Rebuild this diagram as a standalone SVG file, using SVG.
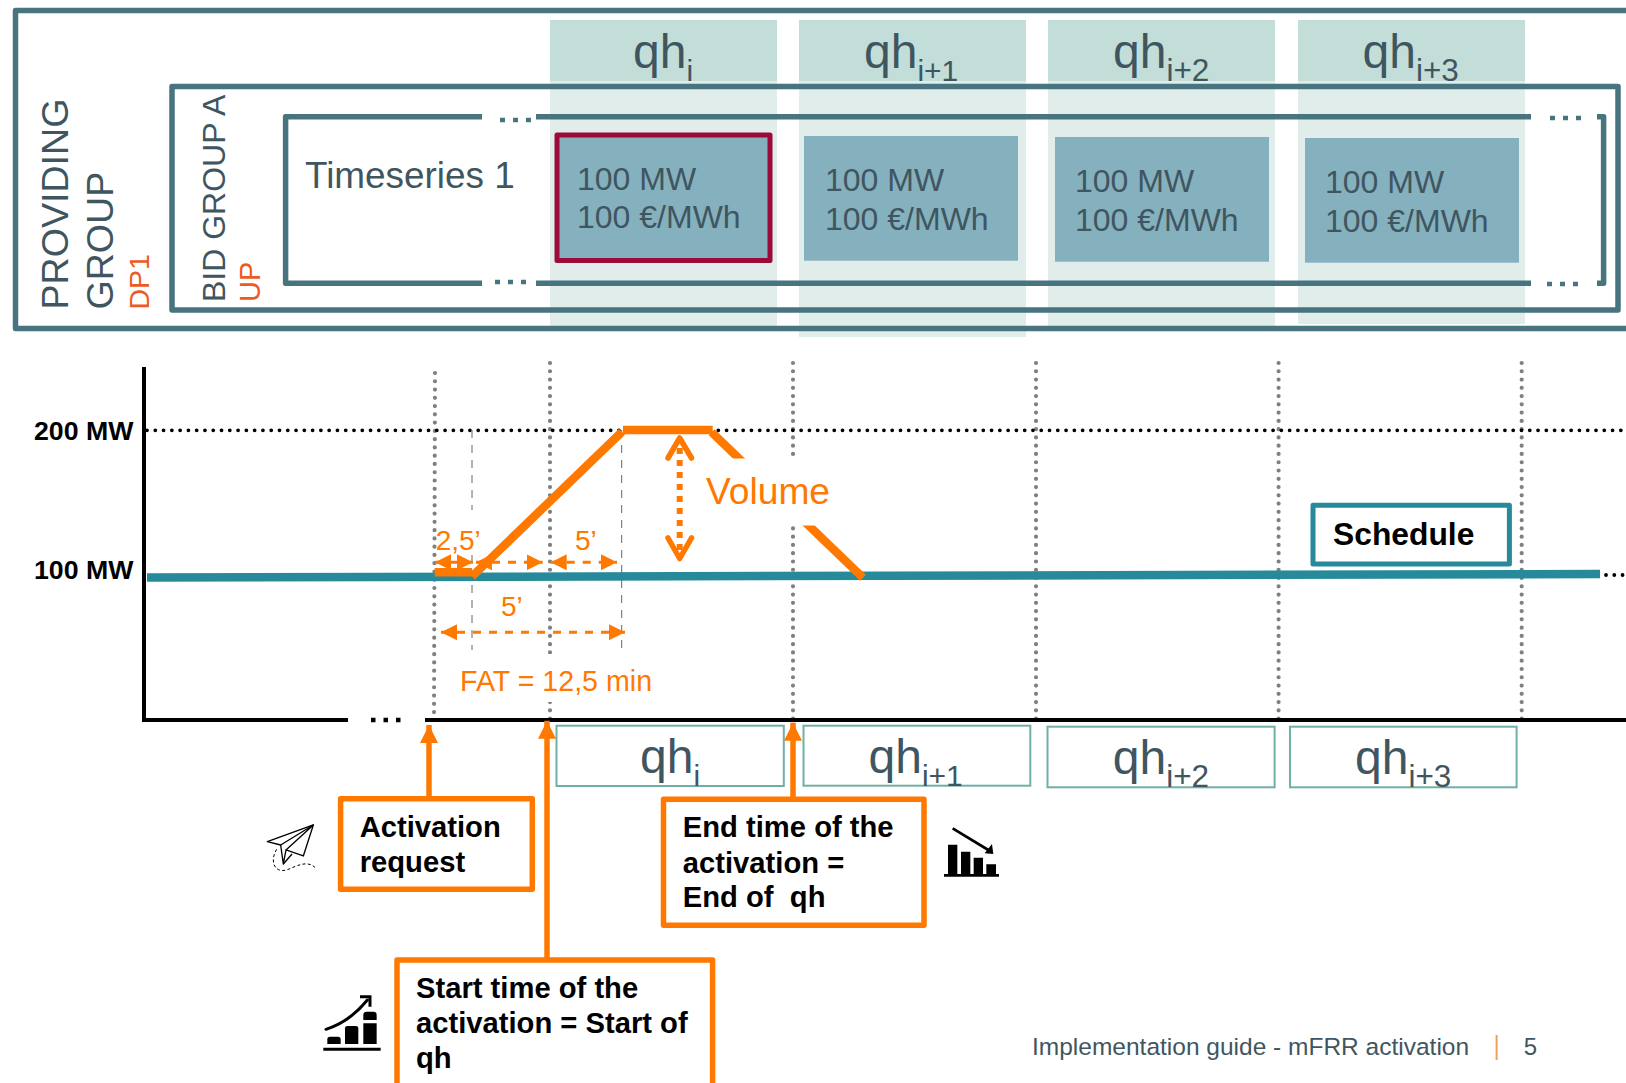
<svg xmlns="http://www.w3.org/2000/svg" width="1626" height="1083" viewBox="0 0 1626 1083">
<style>
text{font-family:"Liberation Sans",Arial,sans-serif;fill:#3f5660}
.frame{fill:none;stroke:#47747f;stroke-width:5.5;stroke-linejoin:round}
.hd{fill:#c3ded8}.bg{fill:#e1edea}
.cell{fill:#85b0be}
.qh{font-size:48px}.sub{font-size:30px}.sub2{font-size:31.5px}
.val{font-size:32px}
.k{fill:#000;font-weight:bold}
.c{font-size:29.2px}
.o{fill:#ff7800}
.call{fill:#fff;stroke:#ff7800;stroke-width:5.5;stroke-linejoin:round}
.qb{fill:none;stroke:#6fafa5;stroke-width:2}
.vd{fill:none;stroke:#808080;stroke-width:4.2;stroke-linecap:round;stroke-dasharray:0 8.27}
.hdot{fill:none;stroke:#000;stroke-width:3.8;stroke-linecap:round;stroke-dasharray:0 8.28}
.thin{fill:none;stroke:#666;stroke-width:1;stroke-dasharray:8 7}
.ol{fill:none;stroke:#ff7800;stroke-linecap:butt}
.dash{fill:none;stroke:#ff7800;stroke-width:3;stroke-dasharray:8 8}
.sq{fill:none;stroke:#47747f;stroke-width:4.5;stroke-dasharray:5 8}
.sqk{fill:none;stroke:#000;stroke-width:4.5;stroke-dasharray:4.5 8}
</style>
<defs>
<marker id="tri" viewBox="0 0 10 10" refX="10" refY="5" markerWidth="16" markerHeight="16" markerUnits="userSpaceOnUse" orient="auto-start-reverse"><path d="M0 0L10 5L0 10Z" fill="#ff7800"/></marker>
<marker id="up" viewBox="0 0 10 10" refX="10" refY="5" markerWidth="18" markerHeight="18" markerUnits="userSpaceOnUse" orient="auto"><path d="M0 0L10 5L0 10Z" fill="#ff7800"/></marker>
</defs>
<rect width="1626" height="1083" fill="#fff"/>

<g id="columns">
<rect class="bg" x="550" y="81" width="227" height="247"/><rect class="hd" x="550" y="20" width="227" height="61"/>
<rect class="bg" x="799" y="81" width="227" height="256"/><rect class="hd" x="799" y="20" width="227" height="61"/>
<rect class="bg" x="1048" y="81" width="227" height="245"/><rect class="hd" x="1048" y="20" width="227" height="61"/>
<rect class="bg" x="1298" y="81" width="227" height="243"/><rect class="hd" x="1298" y="20" width="227" height="61"/>
</g>
<g id="providing-group">
<path class="frame" d="M1626 10.5H15.5V328.5H1626"/>
<text transform="translate(67.5,309.5) rotate(-90)" font-size="37.6">PROVIDING</text>
<text transform="translate(113,309.5) rotate(-90)" font-size="37.6">GROUP</text>
<text transform="translate(149,309.5) rotate(-90)" font-size="28.5" style="fill:#ee5a24">DP1</text>
</g>
<g id="bid-group">
<rect class="frame" x="172" y="86.5" width="1446" height="223.5"/>
<text transform="translate(225,302) rotate(-90)" font-size="32">BID GROUP A</text>
<text transform="translate(260,302) rotate(-90)" font-size="29" style="fill:#ee5a24">UP</text>
</g>
<g id="timeseries">
<path class="frame" d="M482 116.7H285.6V283.3H482M536 116.7H1531M536 283.3H1531M1597 116.7H1603.6V283.3H1597"/>
<path class="sq" d="M500 120H531M495 282H526M1550 118H1581M1547 284H1578"/>
<text x="305" y="188" font-size="36.9">Timeseries 1</text>
</g>
<g id="qh-headers">
<text class="qh" x="633" y="68">qh<tspan class="sub" dy="12.5">i</tspan></text>
<text class="qh" x="864" y="68">qh<tspan class="sub" dy="12.5">i+1</tspan></text>
<text class="qh" x="1113" y="68">qh<tspan class="sub2" dy="12.5">i+2</tspan></text>
<text class="qh" x="1362.5" y="68">qh<tspan class="sub2" dy="12.5">i+3</tspan></text>
</g>
<g id="bid-1">
<rect class="cell" x="557" y="135" width="213" height="125.5" stroke="#9b0a39" stroke-width="5" stroke-linejoin="round"/>
<text class="val" x="577" y="190">100 MW</text><text class="val" x="577" y="228">100 €/MWh</text>
</g>
<g id="bid-2">
<rect class="cell" x="804" y="136" width="214" height="124.7"/>
<text class="val" x="825" y="191">100 MW</text><text class="val" x="825" y="229.7">100 €/MWh</text>
</g>
<g id="bid-3">
<rect class="cell" x="1055" y="137" width="214" height="124.7"/>
<text class="val" x="1075" y="192">100 MW</text><text class="val" x="1075" y="230.7">100 €/MWh</text>
</g>
<g id="bid-4">
<rect class="cell" x="1305" y="138" width="214" height="124.7"/>
<text class="val" x="1325" y="193">100 MW</text><text class="val" x="1325" y="231.7">100 €/MWh</text>
</g>

<g id="chart-grid">
<path class="vd" d="M435 373L434 720M550 363V720M793 363V720M1036 363V720M1278.6 363V720M1521.7 363V720"/>
<path class="hdot" d="M147 430.3H1626M1606 575H1626"/>
<path class="thin" d="M472 430V510M472 555V650M621.7 430V653"/>
</g>
<g id="axes">
<path fill="none" stroke="#000" stroke-width="4" d="M144 367V722M144 720H348M425 720H1626"/>
<path class="sqk" d="M371 720H403"/>
<text class="k" x="34" y="439.7" font-size="26.7">200 MW</text>
<text class="k" x="34" y="579.3" font-size="26.7">100 MW</text>
</g>
<g id="schedule-line">
<path fill="none" stroke="#268a9a" stroke-width="8.5" d="M147 577.5L1600 574"/>
</g>
<g id="activation-profile">
<path class="ol" stroke-width="8.5" d="M434.7 572.3H472M472 576.5L622 431.7M623 430H712.7M711.7 432.3L863 577.7"/>
</g>
<g id="dimensions">
<path class="dash" marker-start="url(#tri)" marker-end="url(#tri)" d="M435 562.3H473"/>
<path class="dash" marker-start="url(#tri)" marker-end="url(#tri)" d="M476 562.3H542.7"/>
<path class="dash" marker-start="url(#tri)" marker-end="url(#tri)" d="M550.7 562.3H617"/>
<path class="dash" marker-start="url(#tri)" marker-end="url(#tri)" d="M441 632.3H625"/>
<text class="o" x="435.7" y="550" font-size="28">2,5’</text>
<text class="o" x="575" y="550" font-size="28">5’</text>
<text class="o" x="501" y="616" font-size="28">5’</text>
<rect x="445" y="654" width="215" height="48" fill="#fff"/>
<text class="o" x="460" y="691" font-size="28.6">FAT = 12,5 min</text>
</g>
<g id="volume">
<rect x="700" y="458.5" width="115" height="67" fill="#fff"/>
<path fill="none" stroke="#ff7800" stroke-width="6" stroke-dasharray="6 6" d="M679.7 448V552"/>
<path fill="none" stroke="#ff7800" stroke-width="5.5" stroke-linecap="round" stroke-linejoin="round" d="M668 458L679.7 438L691.5 458M668 538L679.7 558.5L691.5 538"/>
<text class="o" x="706" y="504" font-size="37.2">Volume</text>
</g>
<g id="schedule-label">
<rect x="1313" y="505.3" width="196.4" height="58.7" fill="#fff" stroke="#268a9a" stroke-width="5" stroke-linejoin="round"/>
<text class="k" x="1333" y="545" font-size="31.8">Schedule</text>
</g>
<g id="qh-axis">
<rect class="qb" x="556.5" y="725.7" width="227.3" height="60.3"/>
<rect class="qb" x="803.5" y="725.7" width="226.8" height="60"/>
<rect class="qb" x="1047.5" y="726.7" width="227.1" height="60.6"/>
<rect class="qb" x="1290" y="726.7" width="226.6" height="60.6"/>
<text class="qh" x="640" y="773">qh<tspan class="sub" dy="13">i</tspan></text>
<text class="qh" x="868.5" y="773">qh<tspan class="sub" dy="13">i+1</tspan></text>
<text class="qh" x="1112.8" y="774">qh<tspan class="sub2" dy="13">i+2</tspan></text>
<text class="qh" x="1355" y="774">qh<tspan class="sub2" dy="13">i+3</tspan></text>
</g>
<g id="connectors">
<path class="ol" stroke-width="5.5" marker-end="url(#up)" d="M429 798V725"/>
<path class="ol" stroke-width="5.5" marker-end="url(#up)" d="M547 960V720.7"/>
<path class="ol" stroke-width="5.5" marker-end="url(#up)" d="M793 799V722.7"/>
</g>
<g id="activation-request">
<rect class="call" x="340.6" y="798.7" width="191.7" height="90.6"/>
<text class="k c" x="359.7" y="836.7">Activation</text>
<text class="k c" x="359.7" y="871.7">request</text>
</g>
<g id="end-time">
<rect class="call" x="663.5" y="799.3" width="260.5" height="126"/>
<text class="k c" x="682.8" y="837.3">End time of the</text>
<text class="k c" x="682.8" y="872.7">activation =</text>
<text class="k c" x="682.8" y="907.3" xml:space="preserve">End of  qh</text>
</g>
<g id="start-time">
<rect class="call" x="397" y="960" width="315.6" height="140"/>
<text class="k c" x="416" y="998.3">Start time of the</text>
<text class="k c" x="416" y="1033.3">activation = Start of</text>
<text class="k c" x="416" y="1068.3">qh</text>
</g>
<g id="icon-plane" transform="translate(250,780) scale(.3333)" fill="none" stroke="#000" stroke-width="4" stroke-linejoin="round">
<path d="M52 185L190 135L160 228L108 210L100 252L92 195Z"/>
<path d="M92 195L190 135L108 210M100 252L126 222"/>
<path stroke-width="3" stroke-dasharray="9 7" d="M80 208C60 240 70 280 110 270C140 258 170 240 195 262"/>
</g>
<g id="icon-rise" transform="translate(250,780) scale(.3333)">
<path d="M232 792V778Q232 770 240 770H264Q272 770 272 778V792Z"/>
<path d="M285 792V745Q285 738 292 738H318Q325 738 325 745V792Z"/>
<path d="M340 792V730H380V792ZM340 720V705Q340 695 350 695H370Q380 695 380 705V720Z"/>
<path fill="none" stroke="#000" stroke-width="9" d="M220 808H392"/>
<path fill="none" stroke="#000" stroke-width="9" stroke-linecap="round" d="M228 748Q300 725 352 660"/>
<path fill="none" stroke="#000" stroke-width="9" d="M330 650H360V680"/>
</g>
<g id="icon-fall" transform="translate(920,800) scale(.3333)">
<path d="M84 134H112V222H84ZM123 155H151V222H123ZM161 173H189V222H161ZM199 193H228V222H199Z"/>
<path fill="none" stroke="#000" stroke-width="8" d="M72 226H237"/>
<path fill="none" stroke="#000" stroke-width="8" d="M98 85L205 150"/>
<path d="M220 162L194 160L216 132Z"/>
</g>
<g id="footer">
<text x="1032" y="1055" font-size="24.5">Implementation guide - mFRR activation</text>
<path d="M1496.6 1035V1060" stroke="#f0a050" stroke-width="2"/>
<text x="1523.8" y="1055" font-size="24">5</text>
</g>
</svg>
